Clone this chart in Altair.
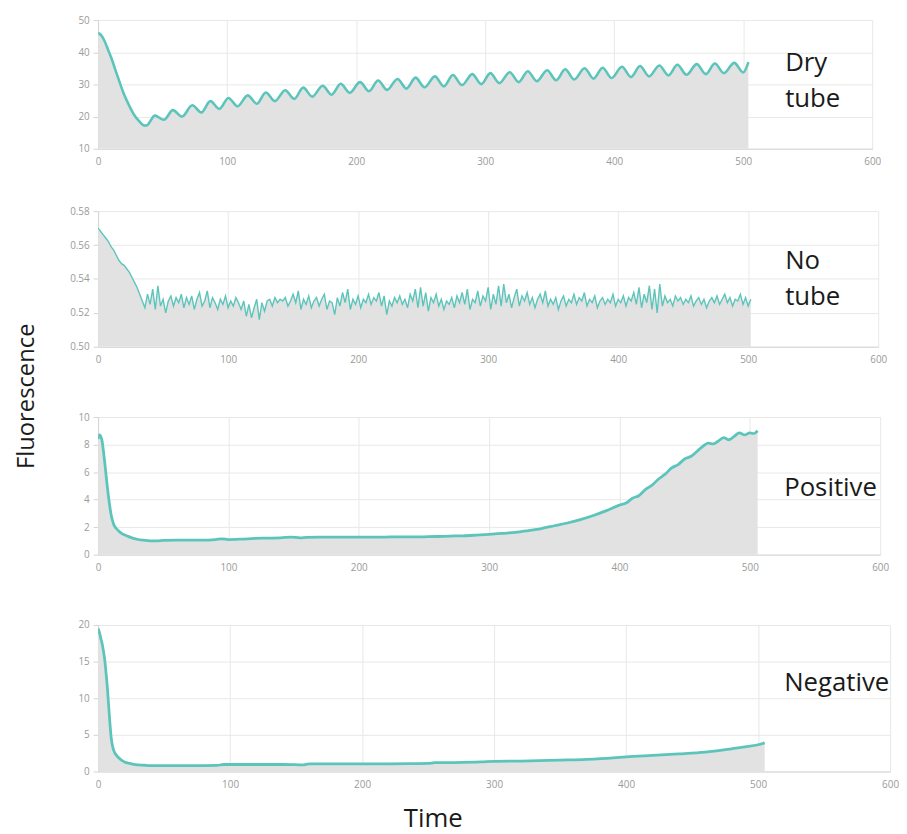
import altair as alt
import pandas as pd

# ---------------- data ----------------
X_TICKS = [0, 100, 200, 300, 400, 500, 600]

# Dry tube: initial decay, then the wave read as alternating peaks / troughs
dry_time = [0, 1, 3, 5, 8, 10, 13, 16, 20, 24, 28, 32, 36, 38, 40,
            44, 51, 58, 65, 73, 80, 87, 94, 101, 108, 116, 123, 130, 137, 145, 152,
            159, 166, 174, 181, 188, 195, 203, 210, 217, 224, 232, 239, 246, 253,
            261, 268, 275, 282, 290, 297, 304, 311, 319, 326, 333, 340, 348, 355,
            362, 369, 377, 384, 391, 398, 406, 413, 420, 427, 435, 442, 449, 456,
            464, 471, 478, 485, 493, 500, 504]
dry_value = [46.0, 45.8, 45.0, 43.5, 40.5, 38.5, 35.0, 31.5, 27.0, 23.5, 20.5, 18.5, 17.2, 17.3, 18.3,
             20.3, 19.0, 22.0, 20.0, 23.5, 21.3, 24.8, 22.4, 25.8, 23.2, 26.6, 24.0, 27.5, 24.8, 28.2, 25.5,
             29.0, 26.2, 29.6, 26.8, 30.2, 27.4, 30.7, 27.9, 31.2, 28.3, 31.7, 28.7, 32.1, 29.1,
             32.5, 29.4, 32.9, 29.8, 33.2, 30.1, 33.5, 30.4, 33.8, 30.7, 34.1, 31.0, 34.4, 31.3,
             34.7, 31.5, 35.0, 31.8, 35.2, 32.0, 35.5, 32.3, 35.7, 32.5, 35.9, 32.8, 36.1, 33.0,
             36.3, 33.2, 36.5, 33.5, 36.7, 33.7, 36.9]

# No tube: one reading every 2 time units
notube_time = list(range(0, 503, 2))
notube_value = [
    0.570, 0.568, 0.566, 0.564, 0.562, 0.559, 0.557, 0.554, 0.551, 0.549,
    0.548, 0.546, 0.544, 0.541, 0.538, 0.535, 0.531, 0.527, 0.523, 0.531,
    0.525, 0.534, 0.522, 0.536, 0.524, 0.528, 0.520, 0.527, 0.530, 0.524,
    0.529, 0.526, 0.531, 0.523, 0.529, 0.525, 0.530, 0.522, 0.528, 0.532,
    0.524, 0.527, 0.533, 0.523, 0.529, 0.526, 0.522, 0.528, 0.525, 0.530,
    0.523, 0.527, 0.524, 0.529, 0.526, 0.522, 0.527, 0.518, 0.525, 0.517,
    0.523, 0.528, 0.516, 0.526, 0.521, 0.527, 0.528, 0.524, 0.529, 0.526,
    0.528, 0.527, 0.529, 0.524, 0.527, 0.531, 0.526, 0.533, 0.522, 0.528,
    0.525, 0.530, 0.523, 0.527, 0.529, 0.524, 0.528, 0.531, 0.522, 0.527,
    0.526, 0.519, 0.529, 0.524, 0.532, 0.526, 0.534, 0.522, 0.528, 0.525,
    0.530, 0.523, 0.528, 0.526, 0.531, 0.525, 0.529, 0.527, 0.532, 0.524,
    0.530, 0.519, 0.527, 0.524, 0.529, 0.526, 0.530, 0.525, 0.528, 0.523,
    0.531, 0.527, 0.534, 0.523, 0.535, 0.524, 0.532, 0.521, 0.529, 0.526,
    0.531, 0.524, 0.528, 0.522, 0.527, 0.525, 0.529, 0.523, 0.530, 0.526,
    0.532, 0.525, 0.534, 0.522, 0.528, 0.526, 0.533, 0.524, 0.530, 0.527,
    0.535, 0.522, 0.531, 0.525, 0.536, 0.524, 0.537, 0.526, 0.531, 0.523,
    0.529, 0.534, 0.524, 0.530, 0.527, 0.532, 0.525, 0.529, 0.523, 0.528,
    0.531, 0.526, 0.533, 0.524, 0.528, 0.525, 0.529, 0.522, 0.527, 0.530,
    0.524, 0.528, 0.526, 0.531, 0.525, 0.529, 0.527, 0.532, 0.524, 0.528,
    0.526, 0.530, 0.523, 0.527, 0.529, 0.525, 0.528, 0.526, 0.531, 0.524,
    0.528, 0.526, 0.530, 0.524, 0.529, 0.527, 0.532, 0.525, 0.535, 0.523,
    0.531, 0.526, 0.536, 0.522, 0.534, 0.520, 0.537, 0.524, 0.530, 0.526,
    0.528, 0.524, 0.530, 0.527, 0.529, 0.525, 0.528, 0.526, 0.530, 0.524,
    0.527, 0.529, 0.525, 0.528, 0.523, 0.527, 0.529, 0.526, 0.530, 0.525,
    0.528, 0.531, 0.526, 0.529, 0.524, 0.528, 0.527, 0.531, 0.525, 0.529,
    0.524, 0.528]

positive_time = [0, 1, 2, 3, 4, 5, 6, 7, 8, 9, 10, 11, 12, 14, 16, 18, 20, 23, 26, 30,
                 35, 40, 45, 50, 60, 70, 80, 90, 95, 100, 110, 120, 130, 140, 148, 155,
                 160, 170, 180, 190, 200, 210, 220, 230, 240, 250, 260, 270, 280, 290,
                 300, 310, 320, 330, 340, 350, 360, 370, 380, 390, 400, 405, 410, 415,
                 420, 425, 430, 435, 440, 445, 450, 455, 460, 465, 468, 472, 475, 480,
                 484, 488, 492, 496, 500, 503, 506]
positive_value = [8.4, 8.7, 8.6, 8.3, 7.6, 6.8, 5.9, 5.0, 4.2, 3.5, 2.9, 2.5, 2.2, 1.9, 1.7, 1.55, 1.45, 1.33, 1.22, 1.12,
                  1.05, 1.0, 1.0, 1.03, 1.05, 1.05, 1.05, 1.1, 1.15, 1.1, 1.13, 1.18, 1.2, 1.22, 1.28, 1.22,
                  1.26, 1.27, 1.27, 1.27, 1.27, 1.28, 1.28, 1.29, 1.29, 1.3, 1.32, 1.35, 1.37, 1.42,
                  1.48, 1.55, 1.62, 1.75, 1.9, 2.1, 2.3, 2.55, 2.85, 3.2, 3.6, 3.75, 4.1, 4.3,
                  4.75, 5.05, 5.5, 5.85, 6.3, 6.55, 6.95, 7.15, 7.55, 7.95, 8.1, 8.05, 8.2, 8.5,
                  8.35, 8.6, 8.85, 8.7, 8.85, 8.8, 9.0]

negative_time = [0, 1, 2, 3, 4, 5, 6, 7, 8, 9, 10, 11, 12, 14, 16, 18, 20, 24, 28, 35,
                 40, 50, 60, 70, 80, 90, 95, 100, 120, 140, 150, 155, 160, 180, 200, 220,
                 240, 250, 255, 270, 290, 300, 320, 350, 370, 390, 400, 420, 440, 460,
                 470, 480, 490, 500, 505]
negative_value = [19.5, 19.0, 18.2, 17.5, 16.5, 15.3, 13.5, 11.5, 9.0, 6.5, 4.5, 3.4, 2.8, 2.2, 1.8, 1.5, 1.3, 1.1, 0.95, 0.85,
                  0.8, 0.8, 0.8, 0.8, 0.8, 0.82, 0.95, 0.95, 0.95, 0.95, 0.92, 0.9, 1.05, 1.05, 1.05, 1.05,
                  1.08, 1.1, 1.2, 1.22, 1.3, 1.38, 1.42, 1.55, 1.65, 1.85, 2.0, 2.2, 2.4, 2.65,
                  2.85, 3.1, 3.35, 3.65, 3.9]

# ---------------- styling ----------------
LINE = "#5cc5bb"
FILL = "#e2e2e2"
TEXT = "#1a1a1a"
FONT = "Open Sans"


def panel(time, value, ydom, yticks, yfmt, w, h, label, lx, ly, sw,
          interp="monotone", xtitle=False, extra=None):
    df = pd.DataFrame({"Time": time, "Fluorescence": value})
    xaxis = dict(values=X_TICKS, tickCount=len(X_TICKS), title=None,
                 ticks=False, labelPadding=8, grid=True)
    if xtitle:
        xaxis.update(title="Time", titleFont=FONT, titleFontSize=26,
                     titleFontWeight="normal", titleColor=TEXT, titleX=338,
                     titleY=56, titleAlign="center", titleBaseline="alphabetic")
    x = alt.X("Time:Q", scale=alt.Scale(domain=[0, 600], nice=False),
              axis=alt.Axis(**xaxis))
    y = alt.Y("Fluorescence:Q",
              scale=alt.Scale(domain=ydom, nice=False, zero=False),
              axis=alt.Axis(values=yticks, tickCount=len(yticks), format=yfmt,
                            title=None, grid=True))
    base = alt.Chart(df)
    area = base.mark_area(color=FILL, interpolate=interp, clip=True).encode(
        x=x, y=y, y2=alt.datum(ydom[0]))
    line = base.mark_line(color=LINE, strokeWidth=sw, interpolate=interp,
                          clip=True).encode(x="Time:Q", y="Fluorescence:Q")
    lab = alt.Chart(pd.DataFrame({"k": [0]})).mark_text(
        align="left", baseline="alphabetic", font=FONT, fontSize=26,
        color=TEXT, lineHeight=37).encode(
        x=alt.value(lx), y=alt.value(ly), text=alt.value(label))
    layers = [area, line, lab] + (extra or [])
    return alt.layer(*layers).properties(width=w, height=h)


ytitle = alt.Chart(pd.DataFrame({"k": [0]})).mark_text(
    angle=270, align="center", baseline="middle", font=FONT, fontSize=24,
    color=TEXT).encode(x=alt.value(-72), y=alt.value(-21),
                       text=alt.value("Fluorescence"))

p1 = panel(dry_time, dry_value, [10, 50], [10, 20, 30, 40, 50], "d",
           782, 130, ["Dry", "tube"], 694, 51, 2.6)
p2 = panel(notube_time, notube_value, [0.50, 0.58],
           [0.50, 0.52, 0.54, 0.56, 0.58], ".2f",
           788, 137, ["No", "tube"], 694, 58, 1.4, interp="linear")
p3 = panel(positive_time, positive_value, [0, 10], [0, 2, 4, 6, 8, 10], "d",
           790, 139, "Positive", 693, 80, 2.8, extra=[ytitle])
p4 = panel(negative_time, negative_value, [0, 20], [0, 5, 10, 15, 20], "d",
           800, 148, "Negative", 693, 67, 2.8, xtitle=True)

lower = alt.vconcat(p2, p3, p4, spacing=71, bounds="flush")

chart = alt.vconcat(p1, lower, spacing=63, bounds="flush").properties(
    padding={"left": 6, "top": 3, "right": 0, "bottom": 0}
).configure_axis(
    labelFont=FONT, labelFontSize=10, labelColor="#9a9a9a",
    gridColor="#e8e8e8", domainColor="#d4d4d4", tickColor="#d4d4d4",
    tickSize=5, labelFlush=False, labelPadding=4
).configure_view(stroke=None)

chart.save("out.html", embed_options={"renderer": "svg", "actions": False})
